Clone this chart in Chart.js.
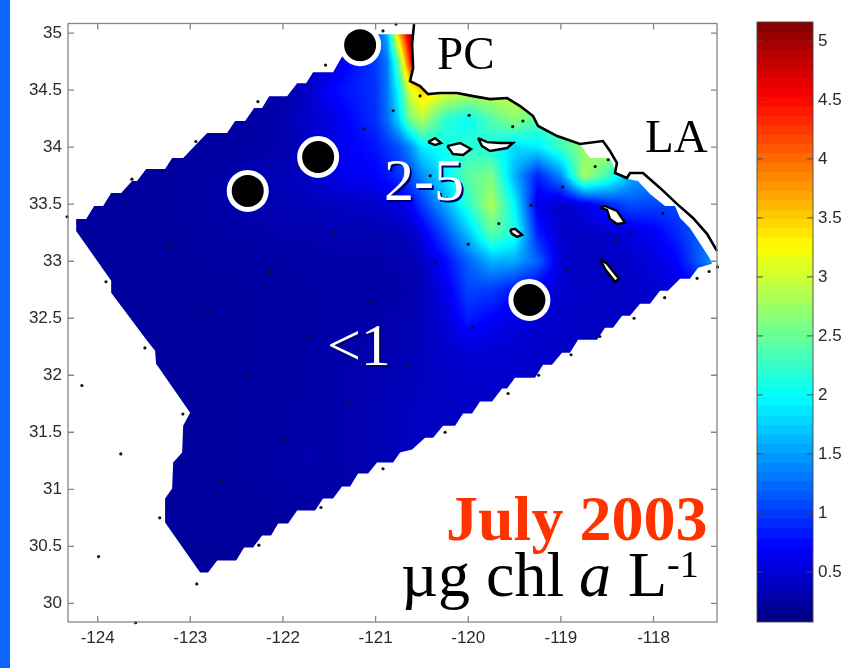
<!DOCTYPE html>
<html>
<head>
<meta charset="utf-8">
<title>July 2003 chl a</title>
<script src="https://cdn.jsdelivr.net/npm/chart.js@4"></script>
<style>
	html, body { margin: 0; padding: 0; background: #fff; }
	#stripe { position: absolute; left: 0; top: 0; width: 10px; height: 668px; background: #0a66ff; }
	#map { position: absolute; left: 0; top: 0; filter: blur(0.4px); }
	#bar { position: absolute; left: 740px; top: 0; filter: blur(0.4px); }
</style>
</head>
<body>
<div id="stripe"></div>
<canvas id="map" width="853" height="668"></canvas>
<canvas id="bar" width="113" height="668"></canvas>
<script>
// eixos
const xTicks = [-124, -123, -122, -121, -120, -119, -118];
const yTicks = [30, 30.5, 31, 31.5, 32, 32.5, 33, 33.5, 34, 34.5, 35];
const barTicks = [0.5, 1, 1.5, 2, 2.5, 3, 3.5, 4, 4.5, 5];
const barRange = [0.076, 5.16];

// grade de clorofila
const lons = [-124.25, -123.5, -123, -122.5, -122, -121.75, -121.5, -121.25, -121, -120.875, -120.75, -120.625, -120.5, -120.25, -120, -119.75, -119.5, -119.25, -119, -118.75, -118.5, -118.25, -118, -117.75, -117.5, -117.25];
const lats = [30.25, 30.75, 31.25, 31.75, 32, 32.25, 32.5, 32.75, 33, 33.25, 33.5, 33.75, 34, 34.25, 34.5, 34.75, 35];
const chl3025 = [.21,.21,.21,.21,.22,.22,.24,.26,.28,.3,.3,.32,.34,.36,.38,.4,.4,.42,.42,.42,.42,.42,.42,.42,.42,.42];
const chl3075 = [.22,.22,.22,.22,.24,.25,.27,.29,.31,.33,.35,.36,.38,.4,.41,.41,.41,.41,.41,.41,.41,.41,.41,.41,.41,.41];
const chl3125 = [.22,.22,.22,.24,.28,.3,.29,.3,.34,.36,.38,.4,.41,.42,.43,.43,.43,.43,.43,.43,.43,.43,.43,.43,.43,.43];
const chl3175 = [.22,.22,.22,.24,.26,.28,.29,.3,.33,.35,.37,.38,.4,.42,.44,.45,.45,.45,.45,.45,.45,.45,.45,.45,.45,.45];
const chl3200 = [.22,.22,.22,.24,.25,.27,.29,.3,.32,.34,.35,.36,.38,.42,.46,.47,.47,.46,.44,.44,.44,.44,.44,.44,.44,.44];
const chl3225 = [.22,.22,.22,.24,.25,.27,.28,.29,.3,.31,.33,.35,.39,.46,.52,.51,.48,.46,.44,.42,.42,.42,.42,.42,.42,.42];
const chl3250 = [.22,.22,.22,.24,.25,.26,.27,.28,.29,.3,.3,.33,.37,.52,.85,.7,.56,.48,.44,.42,.42,.42,.43,.44,.44,.44];
const chl3275 = [.22,.22,.22,.24,.25,.26,.27,.27,.28,.28,.28,.3,.35,.6,1.05,1,.8,.62,.48,.42,.41,.43,.48,.52,.58,.6];
const chl3300 = [.22,.22,.24,.25,.27,.28,.28,.28,.28,.3,.31,.33,.4,.75,1.2,1.6,1.55,1.2,.5,.4,.4,.45,.55,.7,1.2,1.7];
const chl3325 = [.22,.22,.24,.27,.3,.3,.32,.33,.33,.35,.37,.42,.6,1.1,1.7,2.45,2.15,.85,.45,.4,.45,.55,.65,.9,1.2,1.5];
const chl3350 = [.22,.22,.25,.3,.34,.36,.4,.42,.45,.5,.55,.7,1,1.55,2.2,2.85,1.95,.6,.45,.6,.9,1.1,1.05,1.05,1.05,1.05];
const chl3375 = [.23,.23,.25,.3,.36,.42,.55,.65,.7,.8,.95,1.1,1.4,1.9,2.45,2.6,1.6,.85,1.4,2.8,2.3,1.6,1.4,1.3,1.3,1.3];
const chl3400 = [.23,.23,.23,.25,.3,.4,.55,.7,.8,.95,1.1,1.4,1.9,2.1,2.2,2.1,1.8,1.9,2.3,2.7,3,2,2,2,2,2];
const chl3425 = [.23,.23,.23,.25,.3,.45,.55,.75,.95,1.25,1.8,2.6,2.9,2.2,2,2.4,2.7,2.4,2.4,2.6,3,3,3,3,3,3];
const chl3450 = [.23,.23,.23,.25,.3,.4,.7,.85,.95,1.3,2,3.1,3.5,3.2,3,3,3,3,3,3,3,3,3,3,3,3];
const chl3475 = [.23,.23,.23,.25,.3,.38,.5,.75,1,1.3,2.5,4.4,4.8,4.8,4.8,4.8,4.8,4.8,4.8,4.8,4.8,4.8,4.8,4.8,4.8,4.8];
const chl3500 = [.23,.23,.23,.25,.3,.35,.45,.7,1.1,1.6,3.6,5,5,5,5,5,5,5,5,5,5,5,5,5,5,5];
const chlRows = [chl3025, chl3075, chl3125, chl3175, chl3200, chl3225, chl3250, chl3275, chl3300, chl3325, chl3350, chl3375, chl3400, chl3425, chl3450, chl3475, chl3500];

// contorno da area interpolada (em escada)
const edgeLon = [-124.232,-124.232,-123.854,-123.854,-123.466,-123.38,-123.369,-123.002,-123.077,-123.088,-123.185,-123.196,-123.272,-123.272,-122.894,-122.808,-122.71,-122.505,-122.419,-122.322,-122.225,-122.128,-122.052,-121.944,-121.847,-121.653,-121.567,-121.459,-121.362,-121.275,-121.189,-121.081,-120.984,-120.811,-120.736,-120.606,-120.466,-120.379,-120.272,-120.142,-120.056,-119.959,-119.873,-119.743,-119.635,-119.581,-119.495,-119.279,-119.193,-119.096,-118.988,-118.902,-118.815,-118.61,-118.524,-118.437,-118.34,-118.254,-118.146,-118.038,-117.93,-117.844,-117.714,-117.607,-117.52,-117.369,-117.39,-117.607,-117.714,-117.768,-117.876,-118.038,-118.168,-118.276,-118.395,-118.47,-118.686,-118.794,-119.04,-119.246,-119.3,-119.44,-119.58,-119.765,-119.948,-120.121,-120.304,-120.434,-120.52,-120.628,-120.595,-120.606,-120.606,-121.167,-121.31,-121.383,-121.459,-121.675,-121.75,-121.847,-121.955,-122.149,-122.225,-122.311,-122.408,-122.516,-122.603,-122.818,-123.077,-123.196,-123.272,-123.477,-123.574,-123.628,-123.746,-123.854,-123.941,-124.038,-124.124];
const edgeLat = [33.371,33.266,32.828,32.723,32.303,32.215,32.101,31.672,31.558,31.322,31.234,31.007,30.92,30.709,30.271,30.271,30.376,30.376,30.49,30.49,30.595,30.595,30.7,30.7,30.814,30.814,30.919,30.919,31.024,31.024,31.138,31.138,31.234,31.234,31.322,31.348,31.453,31.453,31.558,31.558,31.664,31.664,31.769,31.769,31.883,31.883,31.979,31.979,32.093,32.093,32.198,32.198,32.312,32.312,32.417,32.417,32.522,32.522,32.627,32.627,32.741,32.741,32.846,32.846,32.942,32.977,33.021,33.292,33.38,33.485,33.485,33.59,33.704,33.721,33.765,33.905,33.905,34.028,34.098,34.186,34.273,34.361,34.431,34.422,34.448,34.475,34.475,34.466,34.536,34.58,34.693,34.904,34.991,34.991,34.869,34.764,34.658,34.658,34.562,34.562,34.448,34.448,34.343,34.343,34.229,34.229,34.124,34.124,33.905,33.905,33.809,33.809,33.704,33.704,33.599,33.599,33.485,33.485,33.371];

// costa
const coastLon = [-120.585,-120.606,-120.595,-120.628,-120.52,-120.434,-120.304,-120.121,-119.948,-119.765,-119.58,-119.44,-119.3,-119.246,-119.04,-118.794,-118.546,-118.47,-118.395,-118.416,-118.287,-118.254,-118.114,-117.93,-117.747,-117.574,-117.423,-117.315];
const coastLat = [35.079,34.904,34.693,34.58,34.536,34.466,34.475,34.475,34.448,34.422,34.431,34.361,34.273,34.186,34.098,34.028,34.054,33.967,33.862,33.774,33.73,33.774,33.774,33.643,33.503,33.38,33.24,33.091];

// ilhas
const islandLons = [
	[-120.433,-120.358,-120.293,-120.358,-120.433],
	[-120.228,-120.088,-119.97,-120.056,-120.164,-120.228],
	[-119.894,-119.797,-119.657,-119.516,-119.581,-119.765,-119.851,-119.894],
	[-119.549,-119.495,-119.419,-119.473,-119.527,-119.549],
	[-118.578,-118.524,-118.395,-118.308,-118.395,-118.47,-118.502,-118.578],
	[-118.578,-118.502,-118.373,-118.416,-118.524,-118.578]
];
const islandLats = [
	[34.045,34.08,34.037,34.019,34.045],
	[34.01,34.037,33.984,33.932,33.94,34.01],
	[34.08,34.045,34.037,34.037,33.993,33.967,34.01,34.08],
	[33.275,33.284,33.231,33.214,33.24,33.275],
	[33.468,33.485,33.441,33.336,33.327,33.371,33.45,33.468],
	[33.021,32.977,32.846,32.82,32.933,33.021]
];

// estacoes
const stationLon = [-124.33,-123.91,-123.63,-122.94,-122.27,-121.54,-123.22,-122.14,-122.81,-121.85,-121.45,-121.72,-123.49,-124.17,-123.08,-122.39,-121.31,-123.75,-122,-122.67,-120.92,-121.59,-123.33,-122.26,-123.99,-122.93,-123.59,-119.95,-120.64,-120.25,-119.57,-119.24,-118.89,-118.58,-118.21,-120.78,-120.92,-120.52,-120.81,-121.13,-119.99,-119.41,-119.52,-120.41,-118.63,-118.49,-118.98,-119.32,-119.67,-120,-120.35,-121.04,-118.93,-118.39,-118.25,-117.9,-117.31,-117.4,-117.53,-117.88];
const stationLat = [33.39,32.82,33.72,34.05,34.4,34.72,33.14,32.91,32.57,33.82,33.24,32.33,32.24,31.91,31.66,31.98,31.75,31.31,31.42,31.08,31.18,30.84,30.75,30.51,30.41,30.17,29.83,32.42,32.09,31.5,31.84,32,32.18,32.34,32.5,35.08,35.02,34.45,34.32,34.16,34.28,34.23,34.18,33.75,33.83,33.89,33.65,33.49,33.33,33.15,32.99,32.65,32.92,33.19,33.25,33.42,32.95,32.91,32.85,32.68];

// pontos destacados
const bigLon = [-121.167, -121.62, -122.38, -119.34];
const bigLat = [34.895, 33.914, 33.617, 32.66];

function zip(xs, ys){ return xs.map((x, i)=>({ x: x, y: ys[i] })); }

function jet(v, steps){
	let t = (v - barRange[0]) / (barRange[1] - barRange[0]);
	t = Math.max(0, Math.min(0.9999, t));
	if (steps) t = (Math.floor(t * steps) + 0.5) / steps;
	const c = (a)=>Math.round(255 * Math.max(0, Math.min(1, a)));
	return [c(1.5 - Math.abs(4 * t - 3)), c(1.5 - Math.abs(4 * t - 2)), c(1.5 - Math.abs(4 * t - 1))];
}

function lookup(list, v){
	let i = 0;
	while (i < list.length - 2 && v > list[i + 1]) i++;
	const f = Math.max(0, Math.min(1, (v - list[i]) / (list[i + 1] - list[i])));
	return [i, f];
}

// sombreamento da grade, recortado pelo contorno
const fieldPlugin = {
	id: 'field',
	beforeDatasetsDraw(chart){
		const { ctx, chartArea: a, scales: { x, y } } = chart;
		const cells = chart.data.datasets.find(d=>d.label === 'chl').data;
		const w = Math.ceil(a.right - a.left), h = Math.ceil(a.bottom - a.top);
		const off = document.createElement('canvas');
		off.width = w; off.height = h;
		const octx = off.getContext('2d');
		const img = octx.createImageData(w, h);
		const nc = lons.length;
		for (let py = 0; py < h; py++){
			const [r, fr] = lookup(lats, y.getValueForPixel(a.top + py + 0.5));
			for (let px = 0; px < w; px++){
				const [c, fc] = lookup(lons, x.getValueForPixel(a.left + px + 0.5));
				const v0 = cells[r * nc + c].v * (1 - fc) + cells[r * nc + c + 1].v * fc;
				const v1 = cells[(r + 1) * nc + c].v * (1 - fc) + cells[(r + 1) * nc + c + 1].v * fc;
				const rgb = jet(v0 * (1 - fr) + v1 * fr);
				const o = (py * w + px) * 4;
				img.data[o] = rgb[0]; img.data[o + 1] = rgb[1]; img.data[o + 2] = rgb[2]; img.data[o + 3] = 255;
			}
		}
		octx.putImageData(img, 0, 0);
		ctx.save();
		ctx.beginPath();
		edgeLon.forEach((lon, i)=>{
			const px = x.getPixelForValue(lon), py = y.getPixelForValue(edgeLat[i]);
			i ? ctx.lineTo(px, py) : ctx.moveTo(px, py);
		});
		ctx.closePath();
		ctx.clip();
		ctx.drawImage(off, a.left, a.top);
		ctx.restore();
		// interior branco das ilhas
		ctx.save();
		ctx.fillStyle = '#fff';
		islandLons.forEach((lonList, k)=>{
			ctx.beginPath();
			lonList.forEach((lon, i)=>{
				const px = x.getPixelForValue(lon), py = y.getPixelForValue(islandLats[k][i]);
				i ? ctx.lineTo(px, py) : ctx.moveTo(px, py);
			});
			ctx.closePath();
			ctx.fill();
		});
		ctx.restore();
	}
};

function drawTicks(ctx, a, xs, ys, len){
	ctx.beginPath();
	xs.forEach((px)=>{
		ctx.moveTo(px, a.bottom); ctx.lineTo(px, a.bottom - len);
		ctx.moveTo(px, a.top); ctx.lineTo(px, a.top + len);
	});
	ys.forEach((py)=>{
		ctx.moveTo(a.left, py); ctx.lineTo(a.left + len, py);
		ctx.moveTo(a.right, py); ctx.lineTo(a.right - len, py);
	});
	ctx.stroke();
}

const framePlugin = {
	id: 'frame',
	afterDatasetsDraw(chart){
		const { ctx, chartArea: a, scales: { x, y } } = chart;
		ctx.save();
		ctx.strokeStyle = '#858585';
		ctx.lineWidth = 1.3;
		ctx.strokeRect(a.left, a.top, a.right - a.left, a.bottom - a.top);
		drawTicks(ctx, a, xTicks.map(v=>x.getPixelForValue(v)), yTicks.map(v=>y.getPixelForValue(v)), 6);
		ctx.restore();
	}
};

const labelPlugin = {
	id: 'labels',
	afterDraw(chart){
		const ctx = chart.ctx;
		ctx.save();
		ctx.textBaseline = 'alphabetic';
		ctx.fillStyle = '#000';
		ctx.font = '47px "Liberation Serif"';
		ctx.fillText('PC', 437, 69);
		ctx.fillText('LA', 645, 152);
		ctx.font = '60px "Liberation Serif"';
		ctx.fillStyle = '#00006a';
		ctx.fillText('2-5', 386, 202);
		ctx.fillText('<1', 329, 367);
		ctx.fillStyle = '#fff';
		ctx.fillText('2-5', 384, 200);
		ctx.fillText('<1', 327, 365);
		ctx.fillStyle = '#ff3300';
		ctx.font = 'bold 64px "Liberation Serif"';
		ctx.fillText('July 2003', 446, 540);
		ctx.fillStyle = '#000';
		ctx.font = '64px "Liberation Serif"';
		ctx.fillText('\u00b5', 401, 596);
		ctx.fillText('g', 438, 596);
		ctx.fillText('chl', 486, 596);
		ctx.fillText('L', 628, 596);
		ctx.font = 'italic 64px "Liberation Serif"';
		ctx.fillText('a', 579, 596);
		ctx.font = '38px "Liberation Serif"';
		ctx.fillText('-1', 667, 577);
		ctx.restore();
	}
};

Chart.defaults.font.family = '"Liberation Sans"';
Chart.defaults.color = '#2a2a2a';

const cells = [];
chlRows.forEach((row, r)=>{
	row.forEach((v, c)=>{ cells.push({ x: lons[c], y: lats[r], v: v }); });
});

const datasets = [
	{ label: 'big', data: zip(bigLon, bigLat), pointRadius: 18.5, pointBackgroundColor: '#000', pointBorderColor: '#fff', pointBorderWidth: 5, showLine: false, clip: false },
	{ label: 'stations', data: zip(stationLon, stationLat), pointRadius: 1.6, pointBackgroundColor: '#111', pointBorderWidth: 0, showLine: false, clip: false }
];
islandLons.forEach((lon, i)=>{
	datasets.push({ label: 'island' + i, data: zip(lon, islandLats[i]), showLine: true, fill: false, borderColor: '#000', borderWidth: 2.4, pointRadius: 0 });
});
datasets.push({ label: 'coast', data: zip(coastLon, coastLat), showLine: true, borderColor: '#000', borderWidth: 2.6, pointRadius: 0, clip: false });
datasets.push({ label: 'chl', data: cells, showLine: false, pointRadius: 0 });

new Chart(document.getElementById('map'), {
	type: 'scatter',
	data: { datasets: datasets },
	plugins: [fieldPlugin, framePlugin, labelPlugin],
	options: {
		responsive: false,
		animation: false,
		events: [],
		layout: { padding: { top: 22, right: 136, left: 0, bottom: 0 } },
		plugins: { legend: { display: false }, tooltip: { enabled: false } },
		scales: {
			x: {
				type: 'linear', min: -124.32, max: -117.315,
				afterBuildTicks: (s)=>{ s.ticks = xTicks.map(v=>({ value: v })); },
				afterFit: (s)=>{ s.height = 46; },
				grid: { display: false, tickLength: 0 }, border: { display: false },
				ticks: { font: { size: 17 }, padding: 6, maxRotation: 0, autoSkip: false, callback: (v)=>String(v) }
			},
			y: {
				type: 'linear', min: 29.836, max: 35.085,
				afterBuildTicks: (s)=>{ s.ticks = yTicks.map(v=>({ value: v })); },
				afterFit: (s)=>{ s.width = 68; },
				grid: { display: false, tickLength: 0 }, border: { display: false },
				ticks: { font: { size: 17 }, padding: 6, autoSkip: false, callback: (v)=>String(v) }
			}
		}
	}
});

// barra de cores
const barGradient = (ctx)=>{
	const { chart } = ctx;
	if (!chart.chartArea) return '#000';
	const y = chart.scales.y;
	const g = chart.ctx.createLinearGradient(0, y.getPixelForValue(barRange[0]), 0, y.getPixelForValue(barRange[1]));
	for (let i = 0; i < 64; i++){
		const v = barRange[0] + (barRange[1] - barRange[0]) * (i + 0.5) / 64;
		const col = `rgb(${jet(v, 64).join(',')})`;
		g.addColorStop(i / 64, col);
		g.addColorStop((i + 1) / 64, col);
	}
	return g;
};

new Chart(document.getElementById('bar'), {
	type: 'bar',
	data: {
		labels: ['chl'],
		datasets: [{ data: [barRange], backgroundColor: barGradient, barPercentage: 1, categoryPercentage: 1 }]
	},
	plugins: [{
		id: 'barFrame',
		afterDatasetsDraw(chart){
			const { ctx, chartArea: a, scales: { y } } = chart;
			ctx.save();
			ctx.strokeStyle = 'rgba(70,70,70,0.75)';
			ctx.lineWidth = 1.2;
			ctx.strokeRect(a.left, a.top, a.right - a.left, a.bottom - a.top);
			drawTicks(ctx, a, [], barTicks.map(v=>y.getPixelForValue(v)), 6);
			ctx.restore();
		}
	}],
	options: {
		responsive: false,
		animation: false,
		events: [],
		layout: { padding: { top: 22, bottom: 46, left: 17, right: 0 } },
		plugins: { legend: { display: false }, tooltip: { enabled: false } },
		scales: {
			x: { display: false },
			y: {
				position: 'right', min: barRange[0], max: barRange[1],
				afterBuildTicks: (s)=>{ s.ticks = barTicks.map(v=>({ value: v })); },
				afterFit: (s)=>{ s.width = 40; },
				grid: { display: false, tickLength: 0 }, border: { display: false },
				ticks: { font: { size: 17 }, padding: 5, autoSkip: false, callback: (v)=>String(v) }
			}
		}
	}
});
</script>
</body>
</html>
